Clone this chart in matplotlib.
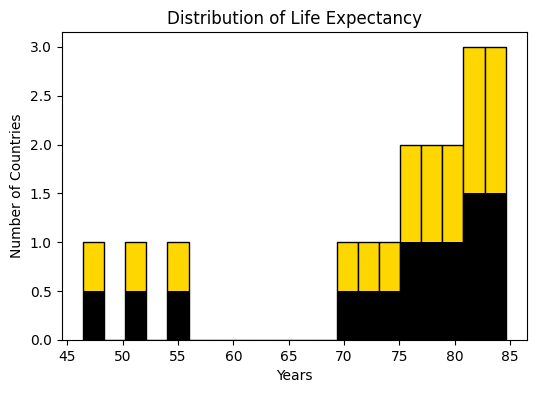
import numpy as np
import matplotlib.pyplot as plt

# life expectancy values (years), one per country
life_expectancy = [46.4, 51.0, 55.0,
                   70.0, 72.0, 74.0,
                   75.6, 76.5, 77.5, 78.5, 79.5, 80.5,
                   81.5, 82.0, 82.5, 83.0, 84.0, 84.6]
n_bins = 20
half_weight = 0.5

fig = plt.figure(figsize=(5.36, 3.93), dpi=100)
ax = fig.add_axes([0.115, 0.135, 0.868, 0.783])

counts, bins, _ = ax.hist(life_expectancy, bins=n_bins, color='gold', edgecolor='black')
ax.hist(life_expectancy, bins=bins, weights=np.full(len(life_expectancy), half_weight),
        histtype='stepfilled', color='black')

ax.set_title('Distribution of Life Expectancy')
ax.set_xlabel('Years')
ax.set_ylabel('Number of Countries')

fig.savefig('out.png', dpi=100)
